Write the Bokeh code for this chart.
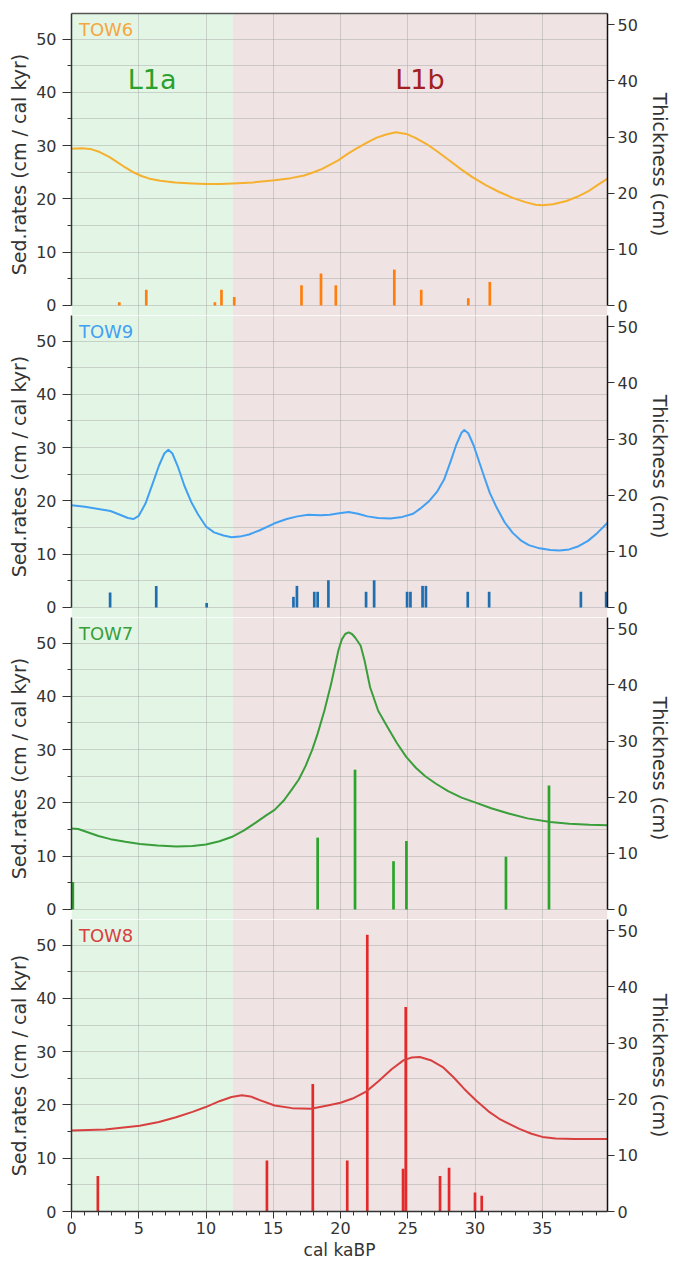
from bokeh.plotting import figure
from bokeh.models import Range1d, LinearAxis, FixedTicker, BoxAnnotation, Label
from bokeh.layouts import column
from bokeh.embed import file_html
from bokeh.resources import INLINE

# ---------------- data ----------------
cores = ["TOW6", "TOW9", "TOW7", "TOW8"]

# sedimentation-rate curves (cm / cal kyr) vs age (cal kaBP)
tow6_age = [0.0, 0.8, 1.5, 2.1, 2.8, 3.4, 4.0, 4.6, 5.2, 5.8, 6.6, 7.7, 9.0, 10.0, 11.0,
            12.0, 13.5, 15.1, 16.3, 17.3, 18.0, 18.6, 19.2, 19.8, 20.5, 21.2, 22.0, 22.7,
            23.4, 24.1, 24.9, 25.6, 26.4, 27.2, 28.1, 29.0, 29.8, 30.8, 31.8, 32.8, 33.75,
            34.5, 35.0, 35.8, 36.8, 37.6, 38.4, 39.1, 39.85]
tow6_rate = [29.4, 29.5, 29.3, 28.8, 27.9, 26.9, 25.9, 25.0, 24.3, 23.8, 23.4, 23.1, 22.9,
             22.8, 22.8, 22.9, 23.1, 23.5, 23.9, 24.4, 25.0, 25.6, 26.4, 27.2, 28.4, 29.5,
             30.6, 31.5, 32.1, 32.5, 32.2, 31.4, 30.3, 28.9, 27.2, 25.5, 24.1, 22.6, 21.3,
             20.2, 19.4, 18.9, 18.8, 19.0, 19.6, 20.4, 21.4, 22.6, 23.8]

tow9_age = [0.0, 1.0, 2.0, 2.9, 3.6, 4.2, 4.6, 5.0, 5.5, 6.0, 6.5, 6.9, 7.2, 7.5, 7.9, 8.4,
            8.9, 9.4, 10.0, 10.6, 11.3, 11.9, 12.5, 13.2, 14.0, 15.1, 16.0, 16.8, 17.6,
            18.5, 19.2, 19.9, 20.6, 21.3, 22.0, 22.8, 23.7, 24.6, 25.4, 25.9, 26.6, 27.2,
            27.7, 28.2, 28.6, 29.0, 29.2, 29.5, 29.9, 30.3, 30.7, 31.1, 31.6, 32.2, 32.8,
            33.4, 34.0, 34.8, 35.6, 36.3, 37.0, 37.7, 38.4, 39.1, 39.85]
tow9_rate = [19.2, 18.9, 18.5, 18.1, 17.4, 16.8, 16.6, 17.2, 19.5, 23.0, 26.6, 28.9, 29.6,
             28.9, 26.5, 22.8, 19.8, 17.5, 15.2, 14.1, 13.5, 13.2, 13.3, 13.7, 14.5, 15.8,
             16.6, 17.1, 17.4, 17.3, 17.4, 17.7, 17.9, 17.6, 17.1, 16.8, 16.7, 17.0, 17.6,
             18.5, 20.0, 21.8, 24.0, 27.5, 30.5, 32.8, 33.3, 32.7, 30.4, 27.4, 24.4, 21.5,
             18.8, 16.0, 14.0, 12.6, 11.7, 11.1, 10.8, 10.7, 10.9, 11.5, 12.5, 14.0, 15.9]

tow7_age = [0.0, 0.5, 1.2, 2.0, 2.9, 4.0, 5.1, 6.4, 7.8, 9.0, 10.0, 11.0, 11.9, 12.8, 13.7,
            14.5, 15.1, 15.8, 16.4, 16.9, 17.4, 17.9, 18.3, 18.8, 19.3, 19.6, 19.85, 20.1,
            20.35, 20.6, 20.85, 21.1, 21.5, 21.8, 22.2, 22.8, 23.5, 24.2, 24.9, 25.6, 26.3,
            27.1, 28.0, 29.0, 30.0, 31.2, 32.5, 33.9, 35.6, 37.0, 38.5, 39.85]
tow7_rate = [15.2, 15.1, 14.5, 13.8, 13.2, 12.7, 12.3, 12.0, 11.8, 11.9, 12.2, 12.8, 13.6,
             14.8, 16.3, 17.7, 18.7, 20.5, 22.6, 24.4, 26.9, 30.0, 33.0, 37.3, 42.3, 45.8,
             48.7, 50.7, 51.7, 52.0, 51.7, 51.0, 49.5, 46.6, 41.7, 37.3, 34.2, 31.2, 28.6,
             26.6, 25.0, 23.6, 22.2, 21.0, 20.1, 19.0, 18.0, 17.1, 16.4, 16.1, 15.9, 15.8]

tow8_age = [0.0, 2.5, 5.07, 6.5, 7.77, 9.0, 9.98, 11.0, 11.9, 12.67, 13.3, 14.0, 15.1, 16.4,
            17.8, 19.04, 20.0, 20.9, 21.9, 22.8, 23.8, 24.7, 25.3, 25.9, 26.7, 27.6, 28.4,
            29.2, 30.1, 31.0, 31.8, 32.5, 33.3, 34.2, 35.0, 36.0, 37.4, 39.85]
tow8_rate = [15.2, 15.4, 16.1, 16.8, 17.7, 18.7, 19.6, 20.7, 21.5, 21.8, 21.6, 20.9, 19.9,
             19.4, 19.3, 19.9, 20.4, 21.2, 22.5, 24.4, 26.7, 28.4, 28.9, 29.0, 28.4, 27.1,
             25.2, 23.0, 20.8, 18.8, 17.4, 16.5, 15.5, 14.6, 14.0, 13.7, 13.6, 13.6]

# layer thickness (cm) bars
tow6_bar_age = [3.55, 5.56, 10.66, 11.15, 12.1, 17.1, 18.55, 19.65, 24.0, 26.0, 29.5, 31.1]
tow6_bar_thk = [0.6, 2.8, 0.6, 2.8, 1.5, 3.6, 5.7, 3.6, 6.4, 2.8, 1.3, 4.2]

tow9_bar_age = [2.87, 6.3, 10.05, 16.5, 16.76, 18.05, 18.3, 19.1, 21.9, 22.5, 24.95, 25.2,
                26.1, 26.35, 29.46, 31.05, 37.87, 39.75]
tow9_bar_thk = [2.65, 3.85, 0.8, 1.9, 3.85, 2.8, 2.8, 4.85, 2.8, 4.85, 2.8, 2.8,
                3.85, 3.85, 2.8, 2.8, 2.8, 2.8]

tow7_bar_age = [0.1, 18.3, 21.08, 23.94, 24.9, 32.3, 35.5]
tow7_bar_thk = [4.9, 12.8, 24.9, 8.6, 12.2, 9.4, 22.1]

tow8_bar_age = [1.96, 14.53, 17.94, 20.5, 21.99, 24.65, 24.85, 27.4, 28.07, 30.0, 30.5]
tow8_bar_thk = [6.3, 9.1, 22.7, 9.1, 49.3, 7.6, 36.4, 6.3, 7.8, 3.4, 2.8]

# zones
zone_names = ["L1a", "L1b"]
zone_start = [0, 12]
zone_end = [12, 39.85]

# ticks
age_ticks = [0, 5, 10, 15, 20, 25, 30, 35]
age_minor = [1, 2, 3, 4, 6, 7, 8, 9, 11, 12, 13, 14, 16, 17, 18, 19, 21, 22, 23, 24,
             26, 27, 28, 29, 31, 32, 33, 34, 36, 37, 38, 39]
rate_ticks = [0, 10, 20, 30, 40, 50]
rate_minor = [5, 15, 25, 35, 45]
rate_grid = [0, 5, 10, 15, 20, 25, 30, 35, 40, 45, 50]
thk_ticks = [0, 10, 20, 30, 40, 50]

# ---------------- style ----------------
FONT = "DejaVu Sans"
AGE_MAX = 39.85
RATE_MAX = 54.8
THK_MAX = 52.0
line_colors = ["#f5b02e", "#42a0f2", "#3a9e3a", "#d8403f"]
bar_colors = ["#ff7f0e", "#1f6eb0", "#2aa52a", "#e22a2a"]
label_colors = ["#f5a640", "#42a0f2", "#3a9e3a", "#d8403f"]
zone_fill = ["#e3f6e5", "#efe3e3"]
zone_text_colors = ["#2ca02c", "#a32020"]
zone_text_x = [6.0, 25.9]

series = [
    (tow6_age, tow6_rate, tow6_bar_age, tow6_bar_thk),
    (tow9_age, tow9_rate, tow9_bar_age, tow9_bar_thk),
    (tow7_age, tow7_rate, tow7_bar_age, tow7_bar_thk),
    (tow8_age, tow8_rate, tow8_bar_age, tow8_bar_thk),
]

AXIS_COL = "#333333"
TICK_TXT = "#333333"


def style_axis(ax, fs="16px", tick=8, standoff=3):
    ax.axis_line_color = AXIS_COL
    ax.axis_line_width = 1.5
    ax.major_tick_line_color = AXIS_COL
    ax.minor_tick_line_color = AXIS_COL
    ax.major_tick_out = tick
    ax.major_tick_in = 0
    ax.minor_tick_out = 4
    ax.minor_tick_in = 0
    ax.major_label_text_font = FONT
    ax.major_label_text_font_size = fs
    ax.major_label_text_color = TICK_TXT
    ax.major_label_standoff = standoff
    ax.axis_label_text_font = FONT
    ax.axis_label_text_font_style = "normal"
    ax.axis_label_text_color = TICK_TXT


plots = []
n = len(cores)
for i, name in enumerate(cores):
    last = i == n - 1
    first = i == 0
    gap_rate = 0 if last else -1.88
    gap_thk = 0 if last else -1.78
    height = 302
    if first:
        height += 13
    if last:
        height = 292 + 51
    p = figure(width=673, height=height,
               x_range=Range1d(0, AGE_MAX), y_range=Range1d(gap_rate, RATE_MAX),
               output_backend="svg", toolbar_location=None,
               x_axis_location="below" if last else None,
               min_border_left=71, min_border_right=60,
               min_border_top=13 if first else 0,
               min_border_bottom=51 if last else 0)
    p.outline_line_color = None
    p.background_fill_color = "white"
    p.border_fill_color = "white"

    # zones
    for j in range(len(zone_names)):
        p.add_layout(BoxAnnotation(left=zone_start[j], right=zone_end[j],
                                   fill_color=zone_fill[j], fill_alpha=1.0,
                                   line_color=None, level="image"))

    # grids
    p.xgrid.ticker = FixedTicker(ticks=age_ticks[1:])
    p.ygrid.ticker = FixedTicker(ticks=rate_grid)
    for g in (p.xgrid[0], p.ygrid[0]):
        g.grid_line_color = "#9a9a9a"
        g.grid_line_alpha = 0.4
        g.grid_line_width = 1

    # left axis
    yax = p.yaxis[0]
    yax.ticker = FixedTicker(ticks=rate_ticks, minor_ticks=rate_minor)
    yax.axis_label = "Sed.rates (cm / cal kyr)"
    style_axis(yax, tick=9, standoff=6)
    yax.axis_label_text_font_size = "19px"
    yax.axis_label_standoff = 3
    if not last:
        yax.bounds = (0, RATE_MAX)

    # right axis
    p.extra_y_ranges = {"thk": Range1d(gap_thk, THK_MAX)}
    rax = LinearAxis(y_range_name="thk", axis_label="Thickness (cm)",
                     ticker=FixedTicker(ticks=thk_ticks, minor_ticks=[]))
    style_axis(rax, tick=7, standoff=3)
    rax.axis_line_color = "#111111"
    rax.axis_label_text_font_size = "19px"
    rax.axis_label_standoff = 8
    if not last:
        rax.bounds = (0, THK_MAX)
    p.add_layout(rax, "right")

    if first:
        top = LinearAxis(ticker=FixedTicker(ticks=[], minor_ticks=[]))
        top.axis_line_color = "#555555"
        top.axis_line_width = 1.5
        top.major_tick_out = 0
        top.minor_tick_out = 0
        top.major_label_standoff = 0
        p.add_layout(top, "above")

    if last:
        xax = p.xaxis[0]
        xax.ticker = FixedTicker(ticks=age_ticks, minor_ticks=age_minor)
        xax.axis_label = "cal kaBP"
        style_axis(xax, tick=7, standoff=3)
        xax.axis_label_text_font_size = "17px"
        xax.axis_label_standoff = 3

    ages, rates, bages, bthk = series[i]
    p.vbar(x=bages, top=bthk, bottom=0, width=0.2, y_range_name="thk",
           fill_color=bar_colors[i], line_color=None)
    p.line(ages, rates, line_color=line_colors[i], line_width=2, line_join="round")

    p.add_layout(Label(x=0.55, y=51.8, text=name, text_font=FONT,
                       text_font_size="18px", text_color=label_colors[i],
                       text_baseline="middle", text_align="left"))

    if first:
        for j, zn in enumerate(zone_names):
            p.add_layout(Label(x=zone_text_x[j], y=42.5, text=zn, text_font=FONT,
                               text_font_size="27px", text_color=zone_text_colors[j],
                               text_baseline="middle", text_align="center"))
    plots.append(p)

layout = column(*plots, spacing=0)
open("out.html", "w").write(file_html(layout, INLINE))
